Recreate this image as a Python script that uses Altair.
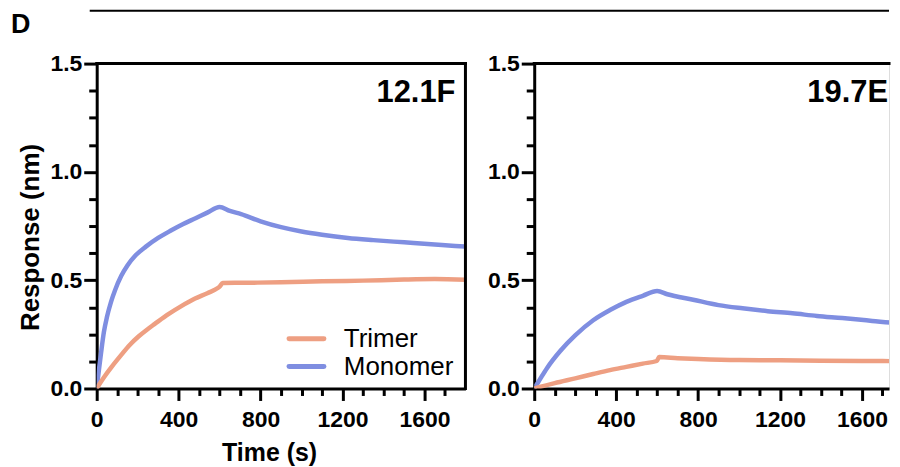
import altair as alt
import pandas as pd

FONT = "Liberation Sans"
SERIES = ["Trimer", "Monomer"]
COLORS = ["#EE9F82", "#7F8EE1"]

X_MAJOR = [0, 400, 800, 1200, 1600]
X_MINOR = [100, 200, 300, 500, 600, 700, 900, 1000, 1100, 1300, 1400, 1500, 1700]
Y_MAJOR = [0.0, 0.5, 1.0, 1.5]
Y_MINOR = [0.125, 0.25, 0.375, 0.625, 0.75, 0.875, 1.125, 1.25, 1.375]

# Panel "12.1F"
A_MONO_T = [0, 10, 20, 35, 50, 70, 90, 120, 150, 190, 240, 300, 360, 420, 480, 540, 600,
            650, 705, 800, 900, 1000, 1100, 1226, 1350, 1450, 1547, 1650, 1750, 1800]
A_MONO_V = [0, 0.08, 0.155, 0.26, 0.33, 0.40, 0.455, 0.52, 0.568, 0.615, 0.655, 0.695, 0.728, 0.758, 0.785, 0.812,
            0.838, 0.82, 0.805, 0.772, 0.745, 0.725, 0.71, 0.695, 0.685, 0.678, 0.672, 0.665, 0.658, 0.655]
A_TRI_T = [0, 20, 40, 73, 120, 160, 204, 250, 282, 350, 413, 480, 540, 593, 600, 615, 700, 900, 1100, 1300, 1500, 1650, 1800]
A_TRI_V = [0, 0.03, 0.058, 0.10, 0.155, 0.20, 0.24, 0.275, 0.297, 0.343, 0.38, 0.415, 0.44, 0.465, 0.47, 0.487, 0.488,
           0.49, 0.495, 0.498, 0.503, 0.505, 0.502]

# Panel "19.7E"
B_MONO_T = [0, 20, 63, 127, 200, 288, 370, 450, 530, 600, 650, 776, 900, 1017, 1140, 1261, 1380, 1504, 1650, 1781, 1800]
B_MONO_V = [0, 0.03, 0.095, 0.173, 0.245, 0.315, 0.362, 0.40, 0.428, 0.45, 0.435, 0.41, 0.385, 0.37, 0.357, 0.347,
            0.335, 0.325, 0.312, 0.30, 0.298]
B_TRI_T = [0, 100, 200, 288, 370, 450, 530, 598, 610, 700, 800, 1000, 1200, 1400, 1600, 1800]
B_TRI_V = [0, 0.025, 0.047, 0.067, 0.085, 0.10, 0.115, 0.127, 0.145, 0.14, 0.136, 0.131, 0.13, 0.128, 0.127, 0.126]


def make_df(mono_t, mono_v, tri_t, tri_v):
    rows = [{"t": t, "v": v, "series": "Monomer"} for t, v in zip(mono_t, mono_v)]
    rows += [{"t": t, "v": v, "series": "Trimer"} for t, v in zip(tri_t, tri_v)]
    return pd.DataFrame(rows)


TICK = dict(tickColor="black", tickWidth=3, grid=False)


def panel(df, label, xmax, width, height, left):
    xs = alt.Scale(domain=[0, xmax], nice=False, zero=False)
    ys = alt.Scale(domain=[0, 1.5], nice=False, zero=False)

    xkw = dict(values=X_MAJOR, orient="bottom", format="d", tickSize=12, domainColor="black", domainWidth=3,
               labelFont=FONT, labelFontSize=23, labelFontWeight="bold", labelColor="black",
               labelBaseline="alphabetic", labelPadding=26, labelFlush=False, labelOverlap=False, **TICK)
    ykw = dict(values=Y_MAJOR, orient="left", format=".1f", tickSize=13, domainColor="black", domainWidth=3,
               labelFont=FONT, labelFontSize=23, labelFontWeight="bold", labelColor="black",
               labelPadding=2, labelFlush=False, labelOverlap=False, labelBaseline="middle", **TICK)
    if left:
        xkw.update(titleFont=FONT, titleFontSize=25, titleFontWeight="bold", titleColor="black",
                   titleX=173, titleY=72, titleBaseline="alphabetic", titleAlign="center")
        ykw.update(titleFont=FONT, titleFontSize=26, titleFontWeight="bold", titleColor="black",
                   titleAngle=270, titleX=-58, titleY=174, titleAlign="center", titleBaseline="alphabetic")
        xenc = alt.X("t:Q", scale=xs, axis=alt.Axis(**xkw), title="Time (s)")
        yenc = alt.Y("v:Q", scale=ys, axis=alt.Axis(**ykw), title="Response (nm)")
    else:
        xenc = alt.X("t:Q", scale=xs, axis=alt.Axis(**xkw), title=None)
        yenc = alt.Y("v:Q", scale=ys, axis=alt.Axis(**ykw), title=None)
    cenc = alt.Color("series:N", scale=alt.Scale(domain=SERIES, range=COLORS), legend=None)

    lines = alt.Chart(df).mark_line(strokeWidth=4.5, clip=True, interpolate="monotone").encode(
        x=xenc, y=yenc, color=cenc)

    minor = alt.Chart(df).mark_point(opacity=0, clip=True).encode(
        x=alt.X("t:Q", scale=xs, title=None,
                axis=alt.Axis(values=X_MINOR, orient="bottom", tickSize=7, labels=False, domain=False, **TICK)),
        y=alt.Y("v:Q", scale=ys, title=None,
                axis=alt.Axis(values=Y_MINOR, orient="left", tickSize=8, labels=False, domain=False, **TICK)))

    one = pd.DataFrame({"k": [0]})
    top = alt.Chart(one).mark_rule(color="black", strokeWidth=3, strokeCap="square").encode(
        x=alt.X(datum=0, axis=None), x2=alt.X2(datum=xmax), y=alt.Y(datum=1.5, axis=None))

    ttl_x = width - 10 if left else width - 1
    ttl = alt.Chart(pd.DataFrame({"label": [label]})).mark_text(
        font=FONT, fontSize=31, fontWeight="bold", align="right", baseline="alphabetic", color="black"
    ).encode(text="label:N", x=alt.value(ttl_x), y=alt.value(39))

    layers = [lines, minor, top, ttl]
    if left:
        rightb = alt.Chart(one).mark_rule(color="black", strokeWidth=3, strokeCap="square").encode(
            x=alt.X(datum=xmax, axis=None), y=alt.Y(datum=0, axis=None), y2=alt.Y2(datum=1.5))
        letter = alt.Chart(pd.DataFrame({"label": ["D"]})).mark_text(
            font=FONT, fontSize=27, fontWeight="bold", align="left", baseline="top", color="black"
        ).encode(text="label:N", x=alt.value(-86), y=alt.value(-52))
        hline = alt.Chart(one).mark_rule(color="black", strokeWidth=2).encode(
            x=alt.value(-7), x2=alt.value(795), y=alt.value(-53))
        layers += [rightb, letter, hline]
        # legend, drawn by hand
        for i, (s, c) in enumerate(zip(SERIES, COLORS)):
            ly = 276 + 28 * i
            sym = alt.Chart(one).mark_rule(color=c, strokeWidth=5, strokeCap="round").encode(
                x=alt.value(193), x2=alt.value(228), y=alt.value(ly))
            txt = alt.Chart(pd.DataFrame({"label": [s]})).mark_text(
                font=FONT, fontSize=26, align="left", baseline="alphabetic", color="black"
            ).encode(text="label:N", x=alt.value(248), y=alt.value(ly + 8))
            layers += [sym, txt]

    return alt.layer(*layers).resolve_axis(x="independent", y="independent").properties(
        width=width, height=height)


left = panel(make_df(A_MONO_T, A_MONO_V, A_TRI_T, A_TRI_V), "12.1F", 1800, 370, 326, True)
right = panel(make_df(B_MONO_T, B_MONO_V, B_TRI_T, B_TRI_V), "19.7E", 1732, 356, 326, False)

chart = alt.HConcatChart(hconcat=[left, right], spacing=69, bounds="flush").properties(
    padding={"left": 2, "top": 0, "right": 0, "bottom": 0}, background="white"
).configure_view(stroke="transparent").configure(font=FONT)

chart.save("out.html", embed_options={"renderer": "svg", "actions": False})
